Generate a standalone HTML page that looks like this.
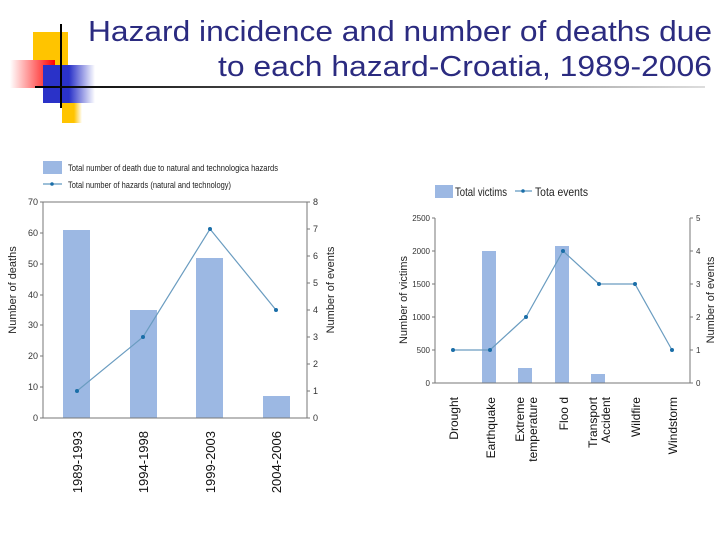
<!DOCTYPE html>
<html><head><meta charset="utf-8"><style>
body{margin:0;width:720px;height:540px;background:#fff;overflow:hidden}
svg{display:block}
text{font-family:"Liberation Sans",sans-serif}
</style></head><body>
<svg width="720" height="540" viewBox="0 0 720 540">
<defs>
<linearGradient id="rg" x1="0" x2="1"><stop offset="0" stop-color="#fff"/><stop offset="1" stop-color="#f00"/></linearGradient>
<linearGradient id="bg" x1="0" x2="1"><stop offset="0" stop-color="#2a32c8"/><stop offset="0.5" stop-color="#2a32c8"/><stop offset="1" stop-color="#fff"/></linearGradient>
<linearGradient id="yg" x1="0" x2="1"><stop offset="0" stop-color="#ffc400"/><stop offset="0.6" stop-color="#ffc400"/><stop offset="1" stop-color="#fff"/></linearGradient>
<linearGradient id="lg" x1="0" x2="1"><stop offset="0" stop-color="#000"/><stop offset="0.4" stop-color="#555"/><stop offset="1" stop-color="#ddd"/></linearGradient>
</defs>
<rect x="33" y="32" width="35" height="50" fill="#ffc400"/>
<rect x="62" y="100" width="20" height="23" fill="url(#yg)"/>
<rect x="10" y="60" width="45" height="28" fill="url(#rg)"/>
<rect x="43" y="65" width="52" height="38" fill="url(#bg)"/>
<rect x="60" y="24" width="2" height="84" fill="#000"/>
<rect x="35" y="86" width="670" height="2" fill="url(#lg)"/>
<text x="88" y="41" font-size="29" fill="#2b2b80" textLength="624" lengthAdjust="spacingAndGlyphs">Hazard incidence and number of deaths due</text>
<text x="218" y="76" font-size="29" fill="#2b2b80" textLength="494" lengthAdjust="spacingAndGlyphs">to each hazard-Croatia, 1989-2006</text>

<!-- Left chart -->
<g font-size="9" fill="#222">
<rect x="43" y="161" width="19" height="13" fill="#9cb8e3"/>
<text x="68" y="171" textLength="210" lengthAdjust="spacingAndGlyphs">Total number of death due to natural and technologica  hazards</text>
<line x1="43" y1="184" x2="62" y2="184" stroke="#3a7fb0"/><circle cx="52" cy="184" r="1.8" fill="#1a6ea8"/>
<text x="68" y="188" textLength="163" lengthAdjust="spacingAndGlyphs">Total number of hazards (natural and technology)</text>
</g>
<g fill="#9cb8e3">
<rect x="63" y="230" width="27" height="188"/>
<rect x="130" y="310" width="27" height="108"/>
<rect x="196" y="258" width="27" height="160"/>
<rect x="263" y="396" width="27" height="22"/>
</g>
<g stroke="#777" stroke-width="1" fill="none">
<path d="M43 202V418H307V202M43 202H307"/>
<path d="M40 418H43M40 387H43M40 356H43M40 325H43M40 295H43M40 264H43M40 233H43M40 202H43"/>
<path d="M307 418H310M307 391H310M307 364H310M307 337H310M307 310H310M307 283H310M307 256H310M307 229H310M307 202H310"/>
</g>
<g font-size="9" fill="#333" text-anchor="end">
<text x="38" y="421">0</text><text x="38" y="390">10</text><text x="38" y="359">20</text><text x="38" y="328">30</text><text x="38" y="298">40</text><text x="38" y="267">50</text><text x="38" y="236">60</text><text x="38" y="205">70</text>
</g>
<g font-size="9" fill="#333">
<text x="313" y="421">0</text><text x="313" y="394">1</text><text x="313" y="367">2</text><text x="313" y="340">3</text><text x="313" y="313">4</text><text x="313" y="286">5</text><text x="313" y="259">6</text><text x="313" y="232">7</text><text x="313" y="205">8</text>
</g>
<polyline points="77,391 143,337 210,229 276,310" fill="none" stroke="#6a9cc0" stroke-width="1.2"/>
<g fill="#1a6ea8"><circle cx="77" cy="391" r="2"/><circle cx="143" cy="337" r="2"/><circle cx="210" cy="229" r="2"/><circle cx="276" cy="310" r="2"/></g>
<text transform="translate(16,290) rotate(-90)" text-anchor="middle" font-size="11" fill="#222">Number of deaths</text>
<text transform="translate(334,290) rotate(-90)" text-anchor="middle" font-size="11" fill="#222">Number of events</text>
<g font-size="13" fill="#111" text-anchor="end">
<text transform="translate(82,431) rotate(-90)">1989-1993</text>
<text transform="translate(148,431) rotate(-90)">1994-1998</text>
<text transform="translate(215,431) rotate(-90)">1999-2003</text>
<text transform="translate(281,431) rotate(-90)">2004-2006</text>
</g>

<!-- Right chart -->
<rect x="435" y="185" width="18" height="13" fill="#9cb8e3"/>
<text x="455" y="196" font-size="12" fill="#222" textLength="52" lengthAdjust="spacingAndGlyphs">Total victims</text>
<line x1="515" y1="191" x2="532" y2="191" stroke="#3a7fb0"/><circle cx="523" cy="191" r="1.8" fill="#1a6ea8"/>
<text x="535" y="196" font-size="12" fill="#222" textLength="53" lengthAdjust="spacingAndGlyphs">Tota events</text>
<g fill="#9cb8e3">
<rect x="482" y="251" width="14" height="132"/>
<rect x="518" y="368" width="14" height="15"/>
<rect x="555" y="246" width="14" height="137"/>
<rect x="591" y="374" width="14" height="9"/>
</g>
<g stroke="#777" fill="none">
<path d="M435 218V383H690V218"/>
<path d="M432 383H435M432 350H435M432 317H435M432 284H435M432 251H435M432 218H435"/>
<path d="M690 383H693M690 350H693M690 317H693M690 284H693M690 251H693M690 218H693"/>
</g>
<g font-size="8" fill="#333" text-anchor="end">
<text x="430" y="386">0</text><text x="430" y="353">500</text><text x="430" y="320">1000</text><text x="430" y="287">1500</text><text x="430" y="254">2000</text><text x="430" y="221">2500</text>
</g>
<g font-size="8" fill="#333">
<text x="696" y="386">0</text><text x="696" y="353">1</text><text x="696" y="320">2</text><text x="696" y="287">3</text><text x="696" y="254">4</text><text x="696" y="221">5</text>
</g>
<polyline points="453,350 490,350 526,317 563,251 599,284 635,284 672,350" fill="none" stroke="#6a9cc0" stroke-width="1.2"/>
<g fill="#1a6ea8"><circle cx="453" cy="350" r="2"/><circle cx="490" cy="350" r="2"/><circle cx="526" cy="317" r="2"/><circle cx="563" cy="251" r="2"/><circle cx="599" cy="284" r="2"/><circle cx="635" cy="284" r="2"/><circle cx="672" cy="350" r="2"/></g>
<text transform="translate(407,300) rotate(-90)" text-anchor="middle" font-size="11" fill="#222">Number of victims</text>
<text transform="translate(714,300) rotate(-90)" text-anchor="middle" font-size="11" fill="#222">Number of events</text>
<g font-size="12" fill="#111" text-anchor="end">
<text transform="translate(458,397) rotate(-90)">Drought</text>
<text transform="translate(495,397) rotate(-90)">Earthquake</text>
<text transform="translate(524,397) rotate(-90)">Extreme</text>
<text transform="translate(537,397) rotate(-90)">temperature</text>
<text transform="translate(568,397) rotate(-90)">Floo d</text>
<text transform="translate(597,397) rotate(-90)">Transport</text>
<text transform="translate(610,397) rotate(-90)">Accident</text>
<text transform="translate(640,397) rotate(-90)">Wildfire</text>
<text transform="translate(677,397) rotate(-90)">Windstorm</text>
</g>
</svg>
</body></html>
